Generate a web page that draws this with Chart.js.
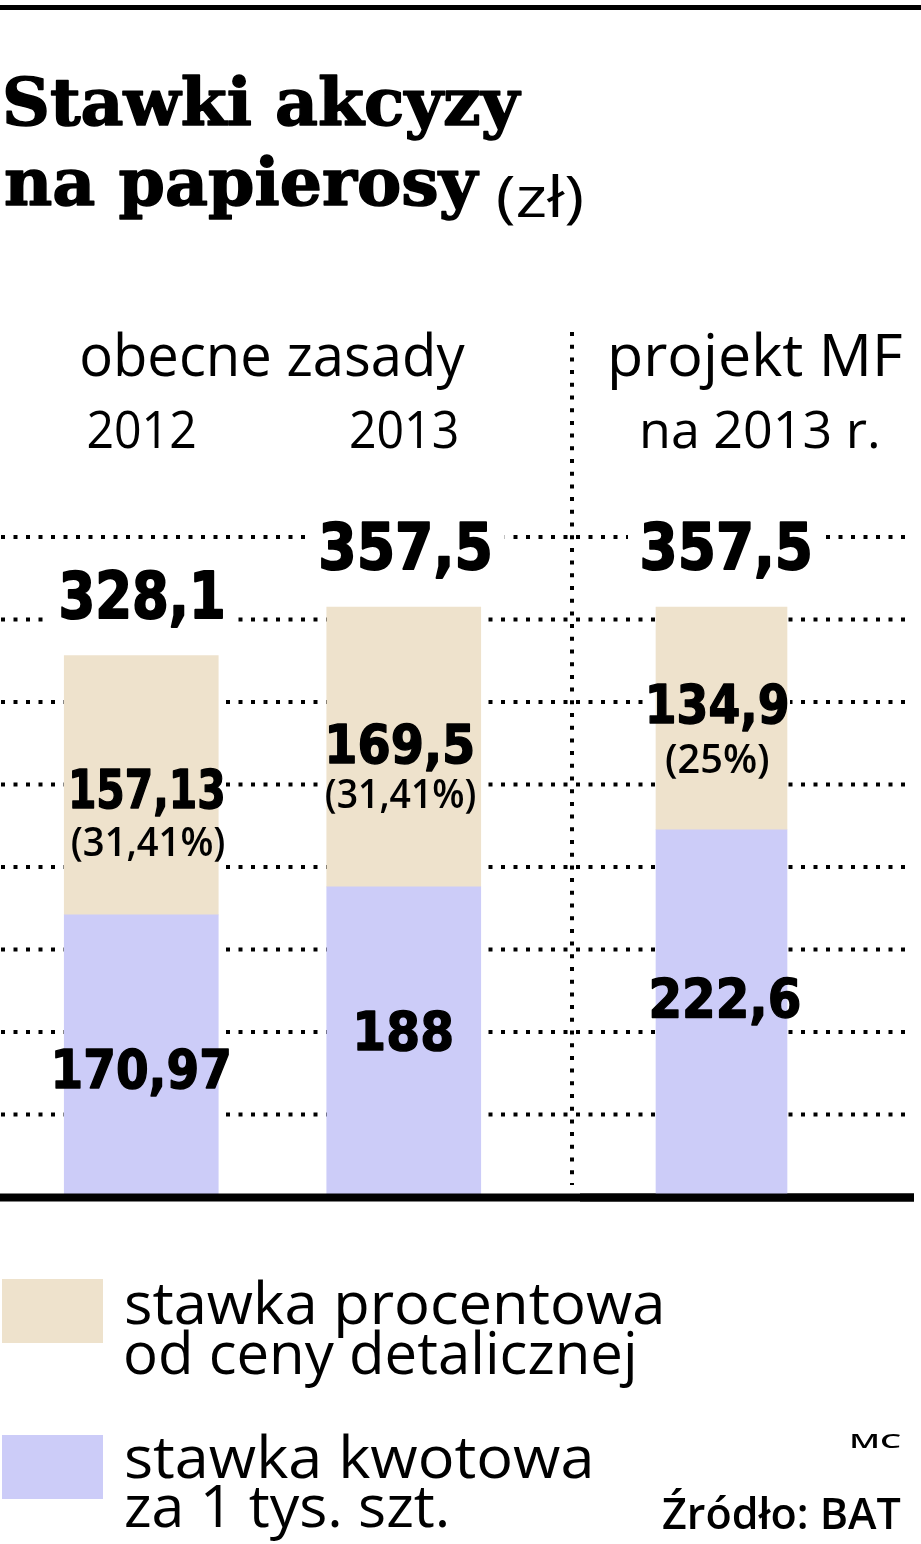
<!DOCTYPE html>
<html>
<head>
<meta charset="utf-8">
<script src="https://cdn.jsdelivr.net/npm/chart.js@4.4.1/dist/chart.umd.min.js"></script>
<style>
  html, body { margin: 0; padding: 0; background: #ffffff; }
  #wrap { position: relative; width: 921px; height: 1544px; overflow: hidden; background: #fff; }
  #c1 { position: absolute; left: 0; top: 0; }
  #c2 { position: absolute; left: 580px; top: 0; }
</style>
</head>
<body>
<div id="wrap">
  <canvas id="c1" width="921" height="1544"></canvas>
  <canvas id="c2" width="341" height="1544"></canvas>
</div>
<script>
// ---------------- DATA ----------------
const categories = ['2012', '2013', 'na 2013 r.'];
const groupTitles = ['obecne zasady', 'projekt MF'];
const stawkaKwotowa = [170.97, 188, 222.6];      // zł za 1 tys. szt.
const stawkaProcentowa = [157.13, 169.5, 134.9]; // zł
const udzialProcentowy = [31.41, 31.41, 25];     // % ceny detalicznej
const gridValues = [50, 100, 150, 200, 250, 300, 350, 400];
const legendProcentowa = ['stawka procentowa', 'od ceny detalicznej'];
const legendKwotowa = ['stawka kwotowa', 'za 1 tys. szt.'];
const titleLines = ['Stawki akcyzy', 'na papierosy'];
const unitText = '(zł)';
const creditText = 'MC';
const sourceText = 'Źródło: BAT';

// ---------------- STYLE / LAYOUT ----------------
const COL_PROC = '#EEE2CC';
const COL_KWOT = '#CCCCF8';
const FONT_NUM = '"DejaVu Sans", "Liberation Sans", sans-serif';
const FONT_TXT = '"Open Sans", "Liberation Sans", sans-serif';
const FONT_TTL = '"DejaVu Serif", "Liberation Serif", serif';

const LAB = {
  totalDx: [1, 2, 5],     totalW: [161, 168, 167], totalDy: -38, totalSize: 64,
  procDx: [6, -3, -3.5],  procW: [151, 144, 138],  procDy: [152, 156, 116], procSize: 53,
  pctDx: [7, -3, -4],     pctW: [153, 150, 103],   pctDy: [200, 201, 166],  pctSize: 40,
  kwotDx: [1, 1, 4],      kwotW: [173, 94, 147],   kwotDy: [173, 163, 187], kwotSize: 54
};

function fmt(v) { return String(Math.round(v * 100) / 100).replace('.', ','); }

function fitText(ctx, text, x, base, w, font, color, align, strokeW) {
  ctx.save();
  ctx.font = font;
  ctx.textAlign = 'left';
  ctx.textBaseline = 'alphabetic';
  ctx.fillStyle = color || '#000';
  const m = ctx.measureText(text);
  const ink = m.actualBoundingBoxLeft + m.actualBoundingBoxRight;
  const s = w / ink;
  const left = align === 'left' ? x : x - w / 2;
  ctx.translate(left + m.actualBoundingBoxLeft * s, base);
  ctx.scale(s, 1);
  ctx.fillText(text, 0, 0);
  if (strokeW) {
    ctx.strokeStyle = color || '#000';
    ctx.lineWidth = strokeW;
    ctx.lineJoin = 'round';
    ctx.strokeText(text, 0, 0);
  }
  ctx.restore();
}

function dotted(ctx, x1, y1, x2, y2, w, dash) {
  ctx.save();
  ctx.strokeStyle = '#000';
  ctx.lineWidth = w;
  ctx.setLineDash(dash);
  ctx.beginPath();
  ctx.moveTo(x1, y1);
  ctx.lineTo(x2, y2);
  ctx.stroke();
  ctx.restore();
}

// label specs for bar with global index g, using element geometry
function labelSpecs(chart, localIdx, g) {
  const blue = chart.getDatasetMeta(0).data[localIdx];
  const tan = chart.getDatasetMeta(1).data[localIdx];
  const cx = tan.x;
  const total = stawkaKwotowa[g] + stawkaProcentowa[g];
  return [
    {t: fmt(total), x: cx + LAB.totalDx[g], b: tan.y + LAB.totalDy, w: LAB.totalW[g], sw: 2,
     size: LAB.totalSize, font: 'bold ' + LAB.totalSize + 'px ' + FONT_NUM, px: 15, pt: 10, pb: 14},
    {t: fmt(stawkaProcentowa[g]), x: cx + LAB.procDx[g], b: tan.y + LAB.procDy[g], w: LAB.procW[g], sw: 1.5,
     size: LAB.procSize, font: 'bold ' + LAB.procSize + 'px ' + FONT_NUM, px: 3, pt: 3, pb: 6},
    {t: '(' + fmt(udzialProcentowy[g]) + '%)', x: cx + LAB.pctDx[g], b: tan.y + LAB.pctDy[g], w: LAB.pctW[g], sw: 0,
     size: LAB.pctSize, font: '600 ' + LAB.pctSize + 'px ' + FONT_TXT, px: 3, pt: 6, pb: 8},
    {t: fmt(stawkaKwotowa[g]), x: cx + LAB.kwotDx[g], b: blue.y + LAB.kwotDy[g], w: LAB.kwotW[g], sw: 1.5,
     size: LAB.kwotSize, font: 'bold ' + LAB.kwotSize + 'px ' + FONT_NUM, px: 3, pt: 3, pb: 6}
  ];
}

function makeChart(canvasId, idx, padL, padR, thickness, extra) {
  const labelPlugin = {
    id: 'labels_' + canvasId,
    beforeDatasetsDraw(chart) {
      const ctx = chart.ctx;
      if (extra.before) extra.before(chart);
      ctx.save();
      ctx.fillStyle = '#fff';
      idx.forEach((g, i) => {
        labelSpecs(chart, i, g).forEach(s => {
          const h = s.size * 0.73;
          ctx.fillRect(s.x - s.w / 2 - s.px, s.b - h - s.pt, s.w + 2 * s.px, h + s.pt + s.pb);
        });
      });
      ctx.restore();
    },
    afterDatasetsDraw(chart) {
      const ctx = chart.ctx;
      const y0 = chart.scales.y.getPixelForValue(0);
      ctx.save();
      ctx.fillStyle = '#000';
      ctx.fillRect(0, y0 - 3.5, extra.baseRight, 8);
      ctx.restore();
      idx.forEach((g, i) => {
        labelSpecs(chart, i, g).forEach(s => fitText(ctx, s.t, s.x, s.b, s.w, s.font, '#000', 'center', s.sw));
      });
      if (extra.after) extra.after(chart);
    }
  };
  return new Chart(document.getElementById(canvasId), {
    type: 'bar',
    data: {
      labels: idx.map(g => categories[g]),
      datasets: [
        {label: legendKwotowa.join(' '), data: idx.map(g => stawkaKwotowa[g]),
         backgroundColor: COL_KWOT, borderWidth: 0, barThickness: thickness},
        {label: legendProcentowa.join(' '), data: idx.map(g => stawkaProcentowa[g]),
         backgroundColor: COL_PROC, borderWidth: 0, barThickness: thickness}
      ]
    },
    options: {
      responsive: false,
      animation: false,
      devicePixelRatio: 1,
      layout: {padding: {top: 537, bottom: 347, left: padL, right: padR}},
      plugins: {legend: {display: false}, tooltip: {enabled: false}},
      scales: {
        x: {display: false, stacked: true},
        y: {display: false, stacked: true, min: 0, max: 400}
      }
    },
    plugins: [labelPlugin]
  });
}

// ---- left panel: obecne zasady ----
makeChart('c1', [0, 1], 10, 386, 154, {
  baseRight: 914,
  before(chart) {
    const ctx = chart.ctx;
    const ys = chart.scales.y;
    gridValues.forEach(v => {
      const y = ys.getPixelForValue(v);
      dotted(ctx, 1, y, 912, y, 4, [4, 8.5]);
    });
    dotted(ctx, 572, 332, 572, 1185, 4, [4, 8.7]);
  },
  after(chart) {
    const ctx = chart.ctx;
    // top rule
    ctx.fillStyle = '#000';
    ctx.fillRect(0, 5, 921, 5);
    // title
    fitText(ctx, titleLines[0], 6, 125, 515, 'bold 66px ' + FONT_TTL, '#000', 'left', 1.5);
    fitText(ctx, titleLines[1], 6, 205, 473, 'bold 66px ' + FONT_TTL, '#000', 'left', 1.5);
    fitText(ctx, unitText, 498, 217, 84, '57px ' + FONT_TXT, '#000', 'left');
    // group header
    fitText(ctx, groupTitles[0], 82, 376, 383, '59px ' + FONT_TXT, '#000', 'left');
    const meta = chart.getDatasetMeta(1).data;
    fitText(ctx, categories[0], meta[0].x, 448, 106, '52px ' + FONT_TXT, '#000');
    fitText(ctx, categories[1], meta[1].x, 448, 106, '52px ' + FONT_TXT, '#000');
    // legend (colors from the datasets)
    const ds = chart.data.datasets;
    ctx.fillStyle = ds[1].backgroundColor;
    ctx.fillRect(2, 1279, 101, 64);
    ctx.fillStyle = ds[0].backgroundColor;
    ctx.fillRect(2, 1435, 101, 64);
    fitText(ctx, legendProcentowa[0], 126, 1324, 535, '58px ' + FONT_TXT, '#000', 'left');
    fitText(ctx, legendProcentowa[1], 126, 1374, 508, '58px ' + FONT_TXT, '#000', 'left');
    fitText(ctx, legendKwotowa[0], 126, 1478, 464, '58px ' + FONT_TXT, '#000', 'left');
    fitText(ctx, legendKwotowa[1], 126, 1527, 320, '58px ' + FONT_TXT, '#000', 'left');
    // credits
    fitText(ctx, creditText, 851, 1448, 50, '600 19px ' + FONT_TXT, '#000', 'left');
    fitText(ctx, sourceText, 663, 1529, 238, '600 44px ' + FONT_TXT, '#000', 'left');
  }
});

// ---- right panel: projekt MF ----
makeChart('c2', [2], 0, 58, 131, {
  baseRight: 334,
  after(chart) {
    const ctx = chart.ctx;
    fitText(ctx, groupTitles[1], 757 - 580, 376, 290, '59px ' + FONT_TXT, '#000');
    fitText(ctx, categories[2], 760 - 580, 448, 234, '52px ' + FONT_TXT, '#000');
  }
});
</script>
</body>
</html>
